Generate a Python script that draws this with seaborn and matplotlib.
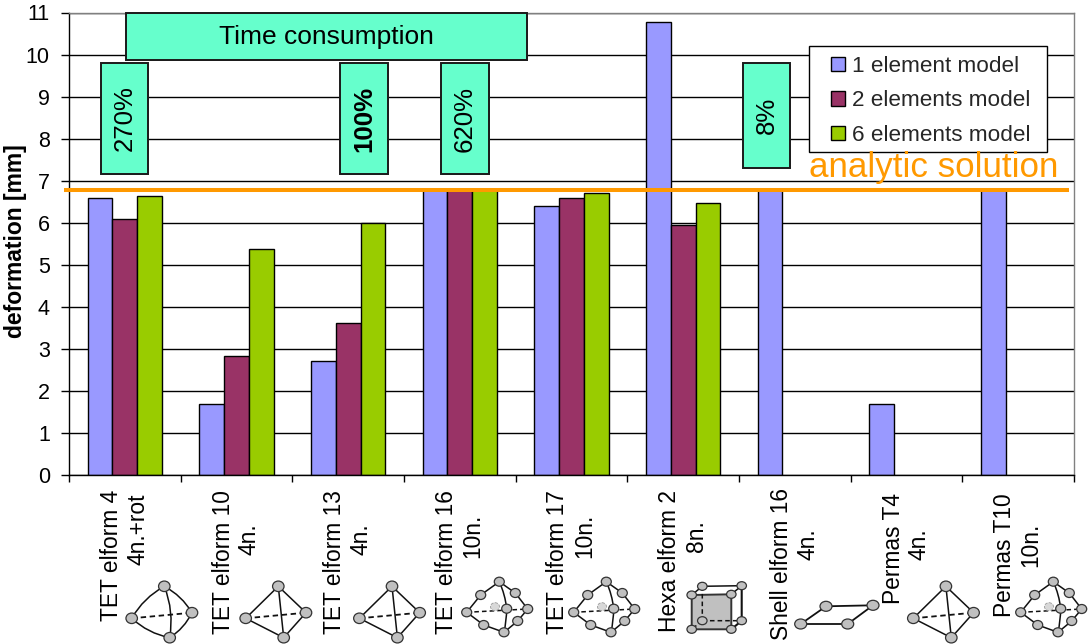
import numpy as np
import pandas as pd
import matplotlib.pyplot as plt
from matplotlib.patches import Ellipse, PathPatch, Rectangle
from matplotlib.path import Path
import seaborn as sns

categories = ["TET elform 4", "TET elform 10", "TET elform 13", "TET elform 16", "TET elform 17",
              "Hexa elform 2", "Shell elform 16", "Permas T4", "Permas T10"]
node_labels = ["4n.+rot", "4n.", "4n.", "10n.", "10n.", "8n.", "4n.", "4n.", "10n."]
one_element = [6.58, 1.70, 2.72, 6.80, 6.40, 10.77, 6.80, 1.70, 6.80]
two_elements = [6.08, 2.83, 3.62, 6.80, 6.60, 5.95, np.nan, np.nan, np.nan]
six_elements = [6.63, 5.38, 6.00, 6.80, 6.70, 6.47, np.nan, np.nan, np.nan]
analytic = 6.79
series_names = ["1 element model", "2 elements model", "6 elements model"]
colors = ["#9999FF", "#993366", "#99CC00"]

W, H = 1092, 644

df = pd.DataFrame({
    "category": categories * 3,
    "model": np.repeat(series_names, 9),
    "value": one_element + two_elements + six_elements,
})

sns.set_theme(style="white")
plt.rcParams["font.family"] = ["Liberation Sans", "DejaVu Sans"]

fig = plt.figure(figsize=(W / 100, H / 100), dpi=100)
ax = fig.add_axes([69 / W, (H - 475) / H, 1005 / W, 462.5 / H])

sns.barplot(data=df, x="category", y="value", hue="model", order=categories, hue_order=series_names,
            palette=colors, width=0.667, gap=0, saturation=1, edgecolor="black", linewidth=1,
            ax=ax, zorder=2)

ax.set_xlim(-0.5, 8.5)
ax.set_ylim(0, 11)
ax.set_yticks(range(12))
ax.set_xticks(np.arange(10) - 0.5, labels=[])
ax.set_xlabel("")
ax.set_ylabel("")
ax.tick_params(axis="x", direction="out", length=4.7, width=1, color="black", bottom=True)
ax.tick_params(axis="y", direction="out", length=5.8, width=1, color="black", left=True,
               labelsize=15.5, labelcolor="black", pad=8)
ax.grid(axis="y", color="black", lw=1)
ax.set_axisbelow(True)
for side in ["left", "bottom"]:
    ax.spines[side].set_color("black")
for side in ["top", "right"]:
    ax.spines[side].set_color("#808080")
for spine in ax.spines.values():
    spine.set_linewidth(1)
    spine.set_visible(True)

fig.text(16 / W, 1 - 241.5 / H, "deformation [mm]", rotation=90, ha="center", va="center",
         fontsize=16.5, fontweight="bold", color="black")

# analytic line sticks out a little on the left of the axis
ax.hlines(analytic, -5 / 1005, 1000 / 1005, transform=ax.get_yaxis_transform(), color="#FF9900",
          lw=2.9, clip_on=False, zorder=5)

# legend box drawn by hand, its padding is not even on all sides
ax.add_patch(Rectangle((809 / W, 1 - 152 / H), 238 / W, 105.5 / H, transform=fig.transFigure, fc="white",
                       ec="black", lw=1, clip_on=False, zorder=6))
handles, labels = ax.get_legend_handles_labels()
leg = ax.legend(handles, labels, loc="upper left", bbox_to_anchor=(831 / W, 1 - 56 / H),
                bbox_transform=fig.transFigure, fontsize=16.2, frameon=False, borderaxespad=0, borderpad=0,
                labelspacing=0.6, handlelength=0.6, handleheight=0.6, handletextpad=0.32)
leg.set_zorder(7)

# category labels, two separately placed rotated lines
name_tops = [490, 490, 490, 490, 490, 490, 488, 493, 493]
node_bottoms = [565, 555, 555, 558, 558, 552, 560, 560, 567]

over = fig.add_axes([0, 0, 1, 1], facecolor="none")
over.set_xlim(0, W)
over.set_ylim(H, 0)
over.axis("off")

for i, (name, nodes_txt) in enumerate(zip(categories, node_labels)):
    cx = 69 + 1005 / 9 * (i + 0.5)
    over.text(cx - 13.5, name_tops[i], name, rotation=90, ha="center", va="top", fontsize=16.4, color="black")
    over.text(cx + 13, node_bottoms[i], nodes_txt, rotation=90, ha="center", va="bottom", fontsize=16.4, color="black")

# green note boxes
boxes = [(126, 13, 401, 47), (100.7, 63, 47.3, 111), (340, 63, 48, 111), (441, 63, 48, 111), (743, 63, 47, 105)]
box_text = ["Time consumption", "270%", "100%", "620%", "8%"]
for (x, y, w, h), txt in zip(boxes, box_text):
    over.add_patch(Rectangle((x + 1, y + 1), w, h, fc="#A0A0A0", ec="none", zorder=3))
    over.add_patch(Rectangle((x, y), w, h, fc="#66FFCC", ec="#1A1A1A", lw=1.4, zorder=4))
    over.text(x + w / 2, y + h / 2, txt, ha="center", va="center", fontsize=19 if w > 100 else 18.6,
              rotation=0 if w > 100 else 90, fontweight="bold" if txt == "100%" else "normal",
              color="black", zorder=5)

over.text(809, 177, "analytic solution", fontsize=25.2, color="#FF9900", ha="left", va="baseline", zorder=5)


# element sketches below the labels
def edge(p, q, bend=0.0, dashed=False, lw=1.1):
    p, q = np.array(p, float), np.array(q, float)
    mid = (p + q) / 2
    ctrl = mid + bend * np.array([q[1] - p[1], p[0] - q[0]])
    over.add_patch(PathPatch(Path([p, ctrl, q], [Path.MOVETO, Path.CURVE3, Path.CURVE3]), fc="none",
                             ec="#111111", lw=lw, ls=(0, (3, 2)) if dashed else "-", zorder=3))


def nodes(points, w=11, h=10, fc="#C0C0C0"):
    for p in points:
        over.add_patch(Ellipse(p, w, h, fc=fc, ec="#333333", lw=0.9, zorder=4))


def tet4(dx, curved=False):
    a, b, c, d = [(245.7 + dx, 618.3), (278.3 + dx, 586.3), (306 + dx, 612.7), (283.7 + dx, 637.7)]
    bend = 0.14 if curved else 0.0
    edge(a, b, bend)
    edge(b, c, bend)
    edge(c, d, bend)
    edge(d, a, bend)
    edge(b, d, bend)
    edge(a, c, dashed=True, lw=1.3)
    nodes([a, b, c, d], 11.5, 10.5)


def tet10(dx):
    a, b, c, d = [(466.7 + dx, 612.3), (499.3 + dx, 581.7), (527.7 + dx, 609), (504 + dx, 632.3)]
    mids = [(480.7 + dx, 595), (515.3 + dx, 593), (517.7 + dx, 621), (483.7 + dx, 625), (506.7 + dx, 608.7)]
    edge(a, mids[0])
    edge(mids[0], b)
    edge(b, mids[1])
    edge(mids[1], c)
    edge(c, mids[2])
    edge(mids[2], d)
    edge(d, mids[3])
    edge(mids[3], a)
    edge(b, mids[4], 0.08)
    edge(mids[4], d, 0.05)
    edge(a, c, dashed=True)
    over.add_patch(Ellipse((495 + dx, 606.7), 9, 8, fc="#D8D8D8", ec="#999999", lw=0.6, ls="--", zorder=4))
    nodes([a, b, c, d] + mids, 10, 9)


tet4(-114, curved=True)
tet4(0)
tet4(113.7)
tet10(0)
tet10(107)
tet4(667.6)
tet10(554)

# hexa
front = [(691.7, 595), (731.3, 594.3), (731.3, 629.3), (691.7, 629.3)]
back = [(702.3, 586.3), (741.7, 585.7), (741.7, 620.7), (702.3, 620.7)]
over.add_patch(plt.Polygon(front, fc="#C0C0C0", ec="#333333", lw=1.4, zorder=3))
edge(back[0], back[1])
edge(back[1], back[2], lw=1.5)
edge(back[2], front[2], lw=1.5)
edge(back[0], back[3], dashed=True)
edge(back[3], back[2], dashed=True)
edge(back[3], front[3], dashed=True)
edge(front[0], back[0])
edge(front[1], back[1])
nodes(front + back, 9.5, 8)

# shell
shell = [(800.7, 624), (826, 606.3), (873, 605.3), (847.7, 624)]
for k in range(4):
    edge(shell[k], shell[(k + 1) % 4], lw=1.3)
nodes(shell, 12, 10)

plt.savefig("out.png", dpi=100)
